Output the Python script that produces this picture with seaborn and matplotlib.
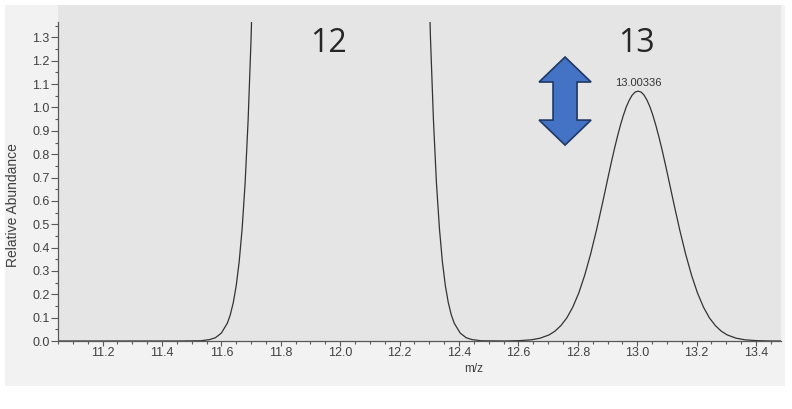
import matplotlib
matplotlib.use("Agg")
import matplotlib.pyplot as plt
from matplotlib.patches import Rectangle, Polygon
from matplotlib.ticker import MultipleLocator
import pandas as pd
import seaborn as sns

sns.set_style("ticks")
plt.rcParams['font.family'] = ['Liberation Sans', 'DejaVu Sans']

# profile: 12C peak (runs off the top) and 13C peak
mz_12 = [11.05, 11.45, 11.53, 11.56, 11.58, 11.60, 11.62, 11.63, 11.64, 11.65, 11.66,
         11.67, 11.68, 11.69, 11.70, 11.71, 11.72,
         12.284, 12.294, 12.304, 12.314, 12.324, 12.334, 12.344, 12.354, 12.364,
         12.374, 12.384, 12.404, 12.424, 12.444, 12.474, 12.554]
ab_12 = [0.0, 0.0, 0.001, 0.006, 0.014, 0.034, 0.076, 0.112, 0.164, 0.237, 0.34,
         0.483, 0.677, 0.944, 1.295, 1.76, 2.37,
         2.37, 1.76, 1.295, 0.944, 0.677, 0.483, 0.34, 0.237, 0.164,
         0.112, 0.076, 0.034, 0.014, 0.006, 0.001, 0.0]

mz_13 = [12.603, 12.643, 12.673, 12.703, 12.723, 12.743, 12.763, 12.783, 12.803, 12.823,
         12.843, 12.863, 12.883, 12.903, 12.913, 12.923, 12.933, 12.943, 12.953,
         12.963, 12.973, 12.983, 12.993, 13.003,
         13.013, 13.023, 13.033, 13.043, 13.053, 13.063, 13.073, 13.083, 13.093,
         13.103, 13.123, 13.143, 13.163, 13.183,
         13.203, 13.223, 13.243, 13.263, 13.283, 13.303, 13.333, 13.363, 13.403,
         13.453, 13.484]
ab_13 = [0.0015, 0.005, 0.012, 0.026, 0.042, 0.066, 0.099, 0.145, 0.205, 0.281,
         0.372, 0.476, 0.590, 0.708, 0.766, 0.822, 0.874, 0.922, 0.965,
         1.002, 1.031, 1.053, 1.066, 1.07,
         1.066, 1.053, 1.031, 1.002, 0.965, 0.922, 0.874, 0.822, 0.766,
         0.708, 0.590, 0.476, 0.372, 0.281,
         0.205, 0.145, 0.099, 0.066, 0.042, 0.026, 0.012, 0.005, 0.0015,
         0.0, 0.0]

x_ticks = [11.2, 11.4, 11.6, 11.8, 12.0, 12.2, 12.4, 12.6, 12.8, 13.0, 13.2, 13.4]
y_ticks = [0.0, 0.1, 0.2, 0.3, 0.4, 0.5, 0.6, 0.7, 0.8, 0.9, 1.0, 1.1, 1.2, 1.3]
peak_label = "13.00336"
peak_mz = 13.003

spec = pd.DataFrame({'mz': mz_12 + mz_13, 'abundance': ab_12 + ab_13})

W, H = 792, 409
fig = plt.figure(figsize=(W / 100, H / 100), dpi=100)
fig.patch.set_facecolor('white')
# slide background + instrument panel
fig.add_artist(Rectangle((5 / W, 23 / H), 780 / W, 381 / H, transform=fig.transFigure,
                         facecolor='#f2f2f2', edgecolor='none', zorder=-2))
fig.add_artist(Rectangle((58 / W, 68 / H), 723 / W, 336 / H, transform=fig.transFigure,
                         facecolor='#e5e5e5', edgecolor='none', zorder=-1))

ax = fig.add_axes([58 / W, 68 / H, 723 / W, 319 / H])
ax.set_facecolor('none')

sns.lineplot(data=spec, x='mz', y='abundance', ax=ax, color='#333333', linewidth=0.9,
             estimator=None, sort=False)

ax.set_xlim(11.05, 13.484)
ax.set_ylim(0, 1.366)
ax.set_xticks(x_ticks)
ax.set_xticklabels([f"{v:.1f}" for v in x_ticks])
ax.set_yticks(y_ticks)
ax.set_yticklabels([f"{v:.1f}" for v in y_ticks])
ax.xaxis.set_minor_locator(MultipleLocator(0.05))
ax.yaxis.set_minor_locator(MultipleLocator(0.05))

for s in ['top', 'right']:
    ax.spines[s].set_visible(False)
for s in ['left', 'bottom']:
    ax.spines[s].set_color('#5a5a5a')
    ax.spines[s].set_linewidth(0.9)
ax.tick_params(which='major', width=0.8, color='#5a5a5a',
               labelsize=9, labelcolor='#404040', pad=1)
ax.tick_params(axis='y', which='major', length=5)
ax.tick_params(axis='x', which='major', length=3.5)
ax.tick_params(which='minor', length=2.5, width=0.8, color='#5a5a5a')

ax.set_ylabel('Relative Abundance', fontsize=10, color='#404040')
ax.yaxis.set_label_coords(-0.0526, 0.426)
ax.set_xlabel('m/z', fontsize=8.5, color='#404040', va='top')
ax.xaxis.set_label_coords(0.575, -0.069)

ax.text(peak_mz, 1.092, peak_label, fontsize=8, color='#333333', ha='center', va='baseline')
ax.text(11.959, 1.238, '12', fontsize=23, family=['Open Sans'], ha='center', va='baseline')
ax.text(12.996, 1.238, '13', fontsize=23, family=['Open Sans'], ha='center', va='baseline')

# blue double arrow
cx, hw, sw = 12.757, 0.0875, 0.0404
ytop, ybot, hl = 1.216, 0.839, 0.107
pts = [(cx, ytop), (cx + hw, ytop - hl), (cx + sw, ytop - hl), (cx + sw, ybot + hl),
       (cx + hw, ybot + hl), (cx, ybot), (cx - hw, ybot + hl), (cx - sw, ybot + hl),
       (cx - sw, ytop - hl), (cx - hw, ytop - hl)]
ax.add_patch(Polygon(pts, closed=True, facecolor='#4472c4', edgecolor='#1f3864',
                     linewidth=1.2, zorder=3, clip_on=False))

fig.savefig('out.png', dpi=100)
